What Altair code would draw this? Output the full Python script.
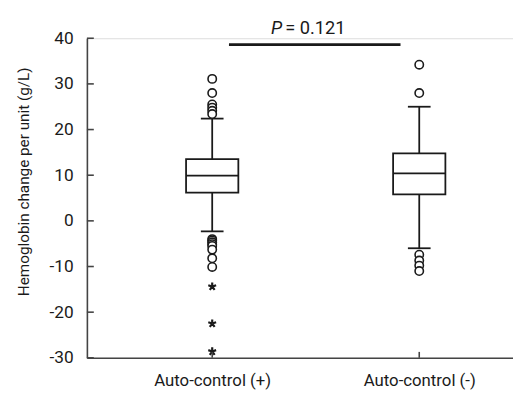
import altair as alt
import pandas as pd

# ---- data ----
categories = ["Auto-control (+)", "Auto-control (-)"]
q1 = [6.2, 5.8]
median = [9.9, 10.4]
q3 = [13.5, 14.8]
whisker_low = [-2.3, -6.0]
whisker_high = [22.4, 25.0]

outliers_plus = [31.1, 28.0, 25.5, 24.8, 24.1, 23.4,
                 -4.0, -4.3, -4.7, -5.1, -5.5, -6.3, -8.2, -10.1]
outliers_minus = [34.2, 28.0, -7.4, -8.7, -9.8, -11.0]
extremes_plus = [-14.4, -22.5, -28.6]

y_ticks = [-30, -20, -10, 0, 10, 20, 30, 40]
p_label_value = "= 0.121"
bracket_y = 38.6
label_y = 40.9

FONT = "Roboto, sans-serif"
INK = "#1a1a1a"

stats = pd.DataFrame({
    "cat": categories, "q1": q1, "med": median, "q3": q3,
    "lo": whisker_low, "hi": whisker_high,
})
outs = pd.DataFrame({
    "cat": [categories[0]] * len(outliers_plus) + [categories[1]] * len(outliers_minus),
    "v": outliers_plus + outliers_minus,
})
ext = pd.DataFrame({"cat": [categories[0]] * len(extremes_plus), "v": extremes_plus})
ticks_df = pd.DataFrame({"v": y_ticks})
cats_df = pd.DataFrame({"cat": categories})
ann = pd.DataFrame({"a": [categories[0]], "b": [categories[1]],
                    "by": [bracket_y], "ty": [label_y]})

xscale = alt.Scale(type="point", domain=categories, padding=0.529, align=0.572)
yscale = alt.Scale(domain=[-30, 40], nice=False, zero=False)

X = alt.X("cat:N", scale=xscale, sort=categories,
          axis=alt.Axis(title=None, ticks=False, labelPadding=15, labelFontSize=17,
                        labelFont=FONT, labelColor=INK, domainColor="#444",
                        domainWidth=1.6, labelAngle=0))
Y = alt.Y("q3:Q", scale=yscale,
          axis=alt.Axis(title="Hemoglobin change per unit (g/L)", values=y_ticks,
                        labelExpr="replace(datum.label, '\u2212', '-')",
                        ticks=False, tickSize=0, labelPadding=14, labelFontSize=17.5,
                        labelFont=FONT, labelColor=INK, domainColor="#444",
                        domainWidth=1.6, grid=False, titleFont=FONT, titleFontSize=15.5,
                        titleFontWeight="normal", titleColor=INK, titleX=-59, titleY=145,
                        titleAngle=-90, titleBaseline="alphabetic", titleAlign="center"))

base = alt.Chart(stats)

box = base.mark_bar(size=53, fill="white", stroke=INK, strokeWidth=1.8).encode(
    x=X, y=Y, y2="q1:Q")
med_t = base.mark_tick(size=53, thickness=1.8, color=INK, opacity=1).encode(
    x=alt.X("cat:N", scale=xscale), y=alt.Y("med:Q", scale=yscale))
wh_hi = base.mark_rule(color=INK, strokeWidth=1.8).encode(
    x=alt.X("cat:N", scale=xscale), y=alt.Y("q3:Q", scale=yscale), y2="hi:Q")
wh_lo = base.mark_rule(color=INK, strokeWidth=1.8).encode(
    x=alt.X("cat:N", scale=xscale), y=alt.Y("lo:Q", scale=yscale), y2="q1:Q")
cap_hi = base.mark_tick(size=23, thickness=1.8, color=INK, opacity=1).encode(
    x=alt.X("cat:N", scale=xscale), y=alt.Y("hi:Q", scale=yscale))
cap_lo = base.mark_tick(size=23, thickness=1.8, color=INK, opacity=1).encode(
    x=alt.X("cat:N", scale=xscale), y=alt.Y("lo:Q", scale=yscale))

pts = alt.Chart(outs).mark_point(shape="circle", size=72, filled=False, stroke=INK,
                                 strokeWidth=1.6, fill="white", fillOpacity=1, opacity=1).encode(
    x=alt.X("cat:N", scale=xscale), y=alt.Y("v:Q", scale=yscale))

star_path = ("M0,0L0,-1M0,0L0.95,-0.31M0,0L0.59,0.81M0,0L-0.59,0.81M0,0L-0.95,-0.31")
stars = alt.Chart(ext).mark_point(shape=star_path, size=70, filled=False, stroke=INK,
                                  strokeWidth=2.2, opacity=1).encode(
    x=alt.X("cat:N", scale=xscale), y=alt.Y("v:Q", scale=yscale))

ytick_marks = alt.Chart(ticks_df).mark_rule(color="#444", strokeWidth=1.6).encode(
    y=alt.Y("v:Q", scale=yscale), x=alt.value(0), x2=alt.value(7))
xtick_marks = alt.Chart(cats_df).mark_rule(color="#444", strokeWidth=1.6).encode(
    x=alt.X("cat:N", scale=xscale), y=alt.value(324), y2=alt.value(318))

bracket = alt.Chart(ann).mark_rule(color=INK, strokeWidth=2.6, xOffset=17, x2Offset=-19).encode(
    x=alt.X("a:N", scale=xscale), x2="b:N", y=alt.Y("by:Q", scale=yscale))
p_italic = alt.Chart(ann).mark_text(text="P", font=FONT, fontSize=18.5, fontStyle="italic",
                                    align="left", baseline="alphabetic", color=INK,
                                    xOffset=59.5).encode(
    x=alt.X("a:N", scale=xscale), y=alt.Y("ty:Q", scale=yscale))
p_value = alt.Chart(ann).mark_text(text=p_label_value, font=FONT, fontSize=18.5,
                                   align="left", baseline="alphabetic", color=INK,
                                   xOffset=74).encode(
    x=alt.X("a:N", scale=xscale), y=alt.Y("ty:Q", scale=yscale))

chart = alt.layer(
    box, wh_hi, wh_lo, cap_hi, cap_lo, med_t, pts, stars,
    ytick_marks, xtick_marks, bracket, p_italic, p_value,
).properties(
    width=432, height=324,
    autosize=alt.AutoSizeParams(type="none"),
    padding={"left": 80, "top": 28, "right": 0, "bottom": 33},
).configure_view(stroke=None).configure(background="white")

chart.save("out.html", embed_options={"renderer": "svg", "actions": False})
